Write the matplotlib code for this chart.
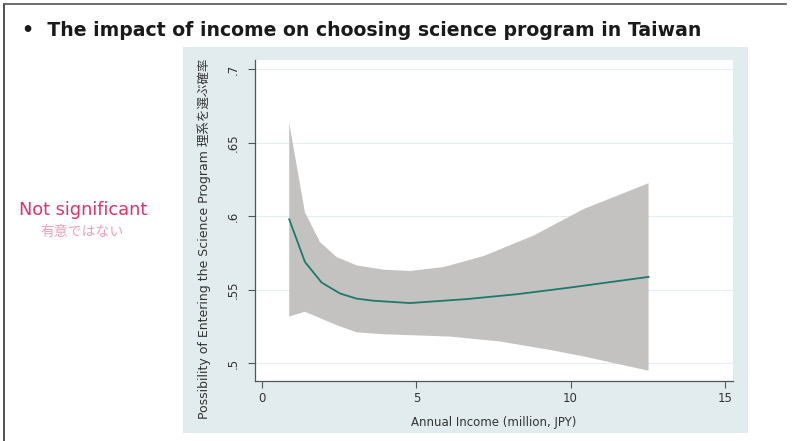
import numpy as np
import matplotlib
matplotlib.use('Agg')
import matplotlib.pyplot as plt
from matplotlib.patches import Rectangle
from matplotlib.lines import Line2D

# predicted probability by annual income, with 95% band
income = [0.87, 1.38, 1.92, 2.52, 3.06, 3.6, 4.79, 6.63, 8.25, 10.0, 12.53]
prob = [0.598, 0.569, 0.555, 0.5475, 0.544, 0.5426, 0.541, 0.5437, 0.547, 0.5516, 0.5588]

upper_x = [0.87, 1.38, 1.87, 2.41, 3.06, 3.93, 4.79, 5.88, 7.18, 8.8, 10.43, 12.53]
upper_y = [0.6635, 0.6027, 0.5824, 0.5723, 0.5666, 0.5637, 0.5628, 0.5655, 0.573, 0.5869, 0.605, 0.6225]
lower_x = [0.87, 1.38, 2.41, 3.06, 3.93, 6.1, 7.7, 9.32, 10.43, 12.53]
lower_y = [0.5318, 0.5351, 0.526, 0.5211, 0.5198, 0.5182, 0.5149, 0.5092, 0.5047, 0.495]

x_ticks = [0, 5, 10, 15]
x_tick_labels = ['0', '5', '10', '15']
y_ticks = [0.5, 0.55, 0.6, 0.65, 0.7]
y_tick_labels = ['.5', '.55', '.6', '.65', '.7']

TITLE = '\u2022  The impact of income on choosing science program in Taiwan'
NOTE_EN = 'Not significant'
NOTE_JP = '有意ではない'
X_LABEL = 'Annual Income (million, JPY)'
Y_LABEL = 'Possibility of Entering the Science Program 理系を選ぶ確率'

FONTS = ['DejaVu Sans', 'Noto Sans CJK JP']
PANEL = '#e2ecee'
BAND = '#c4c2c1'
LINE = '#1b7a6c'
W, H = 792, 441

fig = plt.figure(figsize=(W / 100, H / 100), dpi=100)
fig.patch.set_facecolor('white')

# slide frame (top and left edges)
fig.add_artist(Line2D([4 / W, 4 / W], [0, 1 - 4 / H], color='#333333', lw=1.2))
fig.add_artist(Line2D([4 / W, 786 / W], [1 - 4 / H, 1 - 4 / H], color='#555555', lw=1.2))

# graph region background
fig.add_artist(Rectangle((183 / W, 1 - 433 / H), (748 - 183) / W, (433 - 47) / H,
                         facecolor=PANEL, edgecolor='none', zorder=0))

fig.text(22 / W, 1 - 30 / H, TITLE, fontsize=13.6, fontweight='bold',
         color='#1a1a1a', va='center', ha='left', family=FONTS)
fig.text(83 / W, 1 - 210 / H, NOTE_EN, fontsize=12.8, color='#e0336a',
         ha='center', va='center', family=FONTS)
fig.text(82 / W, 1 - 232 / H, NOTE_JP, fontsize=10, color='#f2a0b8',
         ha='center', va='center', family=FONTS)

ax = fig.add_axes([255 / W, 1 - 381 / H, (733 - 255) / W, (381 - 60) / H])
ax.set_facecolor('white')
ax.set_zorder(2)

# band: upper edge forward, lower edge back
band_x = upper_x + lower_x[::-1]
band_y = upper_y + lower_y[::-1]
ax.fill(band_x, band_y, color=BAND, lw=0, zorder=2)
ax.plot(income, prob, color=LINE, lw=1.3, zorder=3)

ax.set_xlim(-0.24, 15.27)
ax.set_ylim(0.488, 0.7063)
ax.set_xticks(x_ticks)
ax.set_xticklabels(x_tick_labels)
ax.set_yticks(y_ticks)
ax.set_yticklabels(y_tick_labels, rotation=90, va='center')
ax.grid(axis='y', color='#e6eef0', lw=0.8, zorder=1)
ax.set_axisbelow(True)

for side in ['top', 'right']:
    ax.spines[side].set_visible(False)
for side in ['left', 'bottom']:
    ax.spines[side].set_color('#555555')
    ax.spines[side].set_linewidth(0.9)

ax.tick_params(axis='both', direction='out', length=5, width=0.8,
               color='#555555', labelsize=8.5, labelcolor='#333333')
ax.tick_params(axis='y', pad=6)
ax.tick_params(axis='x', pad=3)

ax.set_xlabel(X_LABEL, fontsize=8.5, color='#333333', family=FONTS, labelpad=8)
ax.set_ylabel(Y_LABEL, fontsize=9, color='#333333', family=FONTS)
ax.yaxis.set_label_coords(-0.092, 0.442)

fig.savefig('out.png', dpi=100)
